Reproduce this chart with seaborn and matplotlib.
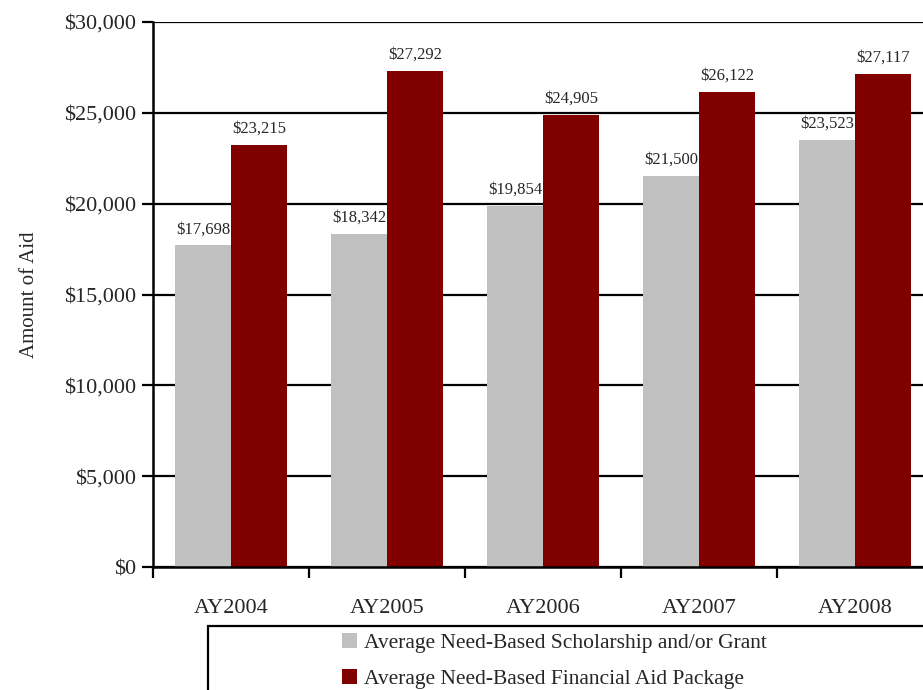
import matplotlib
matplotlib.use("Agg")
import matplotlib.pyplot as plt
import seaborn as sns
import pandas as pd
from matplotlib.patches import Rectangle
from matplotlib.ticker import FuncFormatter, FixedLocator

years = ["AY2004", "AY2005", "AY2006", "AY2007", "AY2008"]
scholarship = [17698, 18342, 19854, 21500, 23523]
package = [23215, 27292, 24905, 26122, 27117]
series_names = ["Average Need-Based Scholarship and/or Grant",
                "Average Need-Based Financial Aid Package"]
colors = ["#C0C0C0", "#800000"]

df = pd.DataFrame({
    "year": years * 2,
    "value": scholarship + package,
    "series": [series_names[0]] * len(years) + [series_names[1]] * len(years),
})

sns.set_style("white")
plt.rcParams['font.family'] = ['Liberation Serif', 'DejaVu Serif']

W, H = 923, 690
fig = plt.figure(figsize=(W / 100, H / 100), dpi=100)
left, right, top, bottom = 153, 933, 22, 567
ax = fig.add_axes([left / W, 1 - bottom / H, (right - left) / W, (bottom - top) / H])

sns.barplot(data=df, x="year", y="value", hue="series", palette=colors,
            width=0.72, saturation=1, ax=ax, legend=True, errorbar=None,
            linewidth=0, edgecolor="none")

ax.set_ylim(0, 30000)
ax.set_xlim(-0.5, 4.5)
ax.yaxis.set_major_locator(FixedLocator(range(0, 30001, 5000)))
ax.yaxis.set_major_formatter(FuncFormatter(lambda v, p: f"${int(v):,}"))
ax.grid(axis="y", color="black", linewidth=1.6, zorder=0)
ax.set_axisbelow(True)
for s in ["top", "right"]:
    ax.spines[s].set_visible(False)
for s in ["left", "bottom"]:
    ax.spines[s].set_color("black")
    ax.spines[s].set_linewidth(1.8)
ax.tick_params(axis="y", which="major", length=8, width=1.6, color="black",
               labelsize=16, pad=4, direction="out", left=True)
ax.set_xticks(range(len(years)))
ax.set_xticklabels(years)
ax.tick_params(axis="x", which="major", length=0, labelsize=16, pad=23)
ax.set_xticks([i - 0.5 for i in range(len(years) + 1)], minor=True)
ax.tick_params(axis="x", which="minor", length=8, width=1.6, color="black",
               direction="out", bottom=True)
ax.set_xlabel("")
ax.set_ylabel("Amount of Aid", fontsize=15, labelpad=18)

for cont in ax.containers:
    ax.bar_label(cont, labels=[f"${int(v):,}" for v in cont.datavalues],
                 padding=6, fontsize=12)

handles, labels = ax.get_legend_handles_labels()
ax.get_legend().remove()
leg = fig.legend(handles, labels, loc="center left",
                 bbox_to_anchor=(342 / W, 1 - 661 / H), frameon=False,
                 fontsize=15.5, handlelength=0.7, handleheight=0.7,
                 handletextpad=0.3, labelspacing=0.75,
                 borderpad=0, borderaxespad=0)
fig.patches.append(Rectangle((208 / W, 1 - 700 / H), 730 / W, 74 / H,
                             transform=fig.transFigure, fill=False,
                             edgecolor="black", linewidth=1.6, clip_on=False))

fig.savefig("out.png", dpi=100)
